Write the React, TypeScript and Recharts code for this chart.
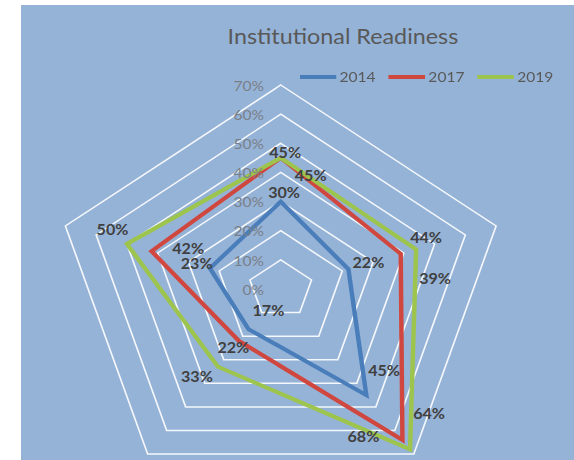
import React from 'react';
import { RadarChart, Radar, PolarGrid, PolarAngleAxis, PolarRadiusAxis, Legend } from 'recharts';

const categories = ['Axis 1', 'Axis 2', 'Axis 3', 'Axis 4', 'Axis 5'];
const values2014 = [30, 22, 45, 17, 23];
const values2017 = [45, 39, 64, 22, 42];
const values2019 = [45, 44, 68, 33, 50];
const radiusTicks = [0, 10, 20, 30, 40, 50, 60, 70];

// label offsets from each point (dx, dy), hand placed like the original
const offsets2014 = [[3, -9], [18, -7], [16, -25], [18, -19], [-12, -5]];
const offsets2017 = [[27, 17], [31, 24], [24, -27], [-5, 6], [33, -3]];
const offsets2019 = [[4, -6], [9, -12], [-42, -13], [-19, 10], [-13, -15]];

const data = categories.map((c, i) => ({
  category: c,
  y2014: values2014[i],
  y2017: values2017[i],
  y2019: values2019[i],
}));

const SX = 1.11;
const W = 498;
const H = 455;
const FONT = 'Lato, "Open Sans", sans-serif';

const makeLabel = (offsets: number[][]) => (p: any) => {
  const [dx, dy] = offsets[p.index] || [0, 0];
  const v = p.payload?.value ?? p.value;
  return (
    <text
      key={`lbl-${p.index}`}
      x={p.cx + dx}
      y={p.cy + dy}
      textAnchor="middle"
      dominantBaseline="central"
      fontFamily={FONT}
      fontSize={14.5}
      fontWeight={700}
      fill="#404040"
    >
      {`${v}%`}
    </text>
  );
};

const RadiusTick = (props: any) => {
  const { x, y, payload } = props;
  return (
    <text x={x - 15} y={y} textAnchor="end" dominantBaseline="central" fontFamily={FONT} fontSize={14} fill="#7a7f88">
      {`${payload.value}%`}
    </text>
  );
};

const LegendContent = (props: any) => (
  <div style={{ display: 'flex', fontFamily: FONT, fontSize: 14, color: '#595959' }}>
    {(props.payload || []).map((item: any) => (
      <div key={item.value} style={{ display: 'flex', alignItems: 'center', width: 80 }}>
        <div style={{ width: 33, height: 4, background: item.color, marginRight: 3 }} />
        <span>{item.value}</span>
      </div>
    ))}
  </div>
);

export default function App() {
  return (
    <div style={{ position: 'absolute', left: 0, top: 0, width: 574, height: 460, background: '#fff', overflow: 'hidden' }}>
      <div
        style={{
          position: 'absolute',
          left: 21,
          top: 5,
          width: W,
          height: H,
          background: '#95B3D7',
          transform: `scaleX(${SX})`,
          transformOrigin: '0 0',
        }}
      >
        <div
          style={{
            position: 'absolute',
            left: 90,
            top: 18,
            width: 400,
            textAlign: 'center',
            fontFamily: FONT,
            fontSize: 21,
            lineHeight: '25px',
            color: '#595959',
          }}
        >
          Institutional Readiness
        </div>
        <RadarChart width={W} height={H} cx={234} cy={284} outerRadius={204} data={data} margin={{ top: 0, right: 0, bottom: 0, left: 0 }}>
          <PolarGrid gridType="polygon" radialLines={false} stroke="#ffffff" strokeWidth={1.5} strokeOpacity={0.9} />
          <PolarAngleAxis dataKey="category" tick={false} axisLine={false} tickLine={false} />
          <PolarRadiusAxis
            angle={90}
            domain={[0, 70]}
            ticks={radiusTicks}
            tickCount={8}
            axisLine={false}
            tickLine={false}
            tick={<RadiusTick />}
          />
          <Legend
            content={<LegendContent />}
            wrapperStyle={{ position: 'absolute', top: 63, left: 251, width: 260 }}
          />
          <Radar name="2014" dataKey="y2014" stroke="#4A7EBB" strokeWidth={4} fill="none" fillOpacity={0} dot={makeLabel(offsets2014)} isAnimationActive={false} />
          <Radar name="2017" dataKey="y2017" stroke="#D0473F" strokeWidth={4} fill="none" fillOpacity={0} dot={makeLabel(offsets2017)} isAnimationActive={false} />
          <Radar name="2019" dataKey="y2019" stroke="#9DC44D" strokeWidth={4} fill="none" fillOpacity={0} dot={makeLabel(offsets2019)} isAnimationActive={false} />
        </RadarChart>
      </div>
    </div>
  );
}
